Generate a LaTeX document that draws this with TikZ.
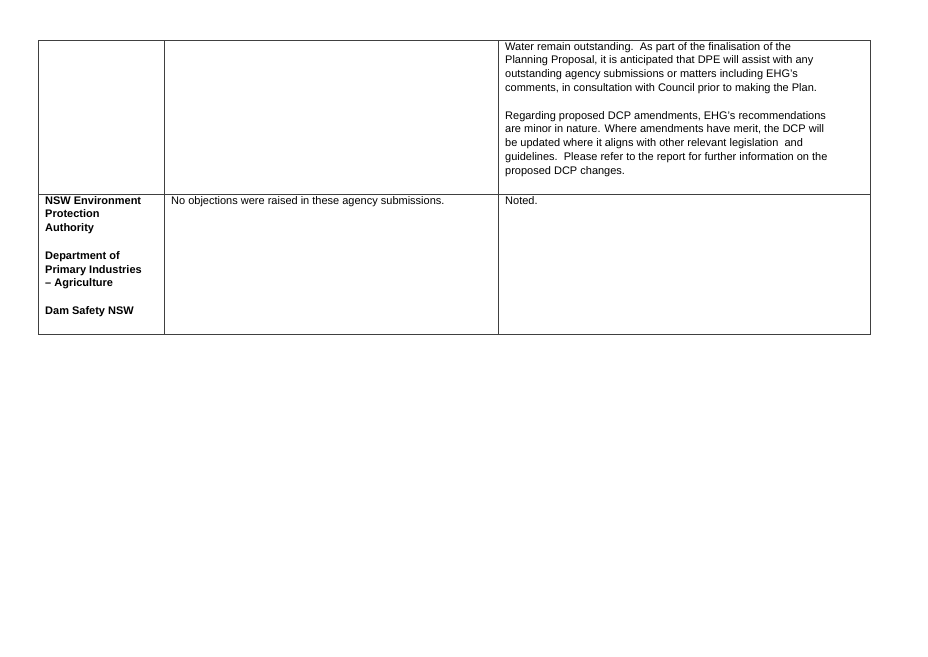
\documentclass[tikz,border=0pt]{standalone}
\usepackage{fontspec}
\setmainfont{Liberation Sans}
\begin{document}
\begin{tikzpicture}[x=1pt,y=-1pt,
  cell/.style={anchor=north west,inner sep=0pt,align=left,font=\fontsize{11}{13.8}\selectfont},
  grid/.style={draw=black!75,line width=0.8pt}]
\useasboundingbox (0,0) rectangle (928,656);
\draw[grid] (38,40) rectangle (870,334);
\draw[grid] (164,40) -- (164,334);
\draw[grid] (498,40) -- (498,334);
\draw[grid] (38,194) -- (870,194);
\node[cell] (c1) at (505,42) {Water remain outstanding.\ \ As part of the finalisation of the\\Planning Proposal, it is anticipated that DPE will assist with any\\outstanding agency submissions or matters including EHG's\\comments, in consultation with Council prior to making the Plan.\\[13.8pt]Regarding proposed DCP amendments, EHG's recommendations\\are minor in nature. Where amendments have merit, the DCP will\\be updated where it aligns with other relevant legislation\ \ and\\guidelines.\ \ Please refer to the report for further information on the\\proposed DCP changes.};
\node[cell,font=\fontsize{11}{13.8}\selectfont\bfseries] (a) at (45,196) {NSW Environment\\Protection\\Authority\\[13.8pt]Department of\\Primary Industries\\-- Agriculture\\[13.8pt]Dam Safety NSW};
\node[cell] (b) at (171,196) {No objections were raised in these agency submissions.};
\node[cell] (n) at (505,196) {Noted.};
\end{tikzpicture}
\end{document}
